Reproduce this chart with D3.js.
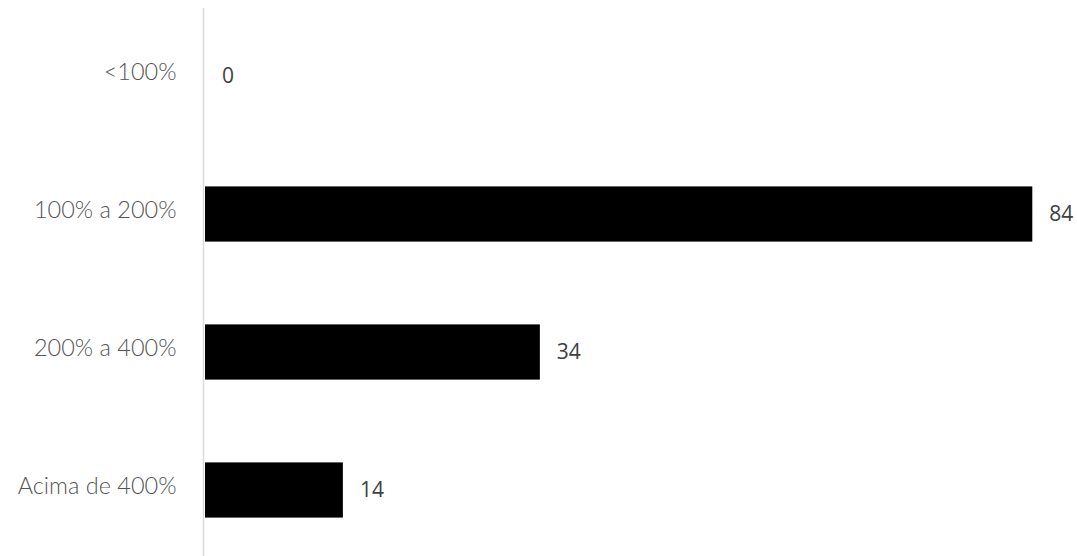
<!DOCTYPE html>
<html><head><meta charset="utf-8">
<script src="https://cdn.jsdelivr.net/npm/d3@7"></script>
<style>html,body{margin:0;padding:0;background:#fff;}</style>
</head><body>
<svg id="c" width="1077" height="556"></svg>
<script>
const categories = ["<100%", "100% a 200%", "200% a 400%", "Acima de 400%"];
const values = [0, 84, 34, 14];

const svg = d3.select("#c");
const x = d3.scaleLinear().domain([0, 84]).range([205, 1032.3]);
const y = d3.scaleBand().domain(categories).range([7, 559]).paddingInner(0.6).paddingOuter(0.3);

svg.selectAll("rect.bar").data(categories).enter().append("rect")
  .attr("class", "bar")
  .attr("x", x(0))
  .attr("y", d => y(d))
  .attr("width", (d, i) => x(values[i]) - x(0))
  .attr("height", y.bandwidth())
  .attr("fill", "#000");

const axis = d3.axisLeft(y).tickSize(0).tickPadding(27);
const g = svg.append("g").attr("transform", "translate(203.5,0)").call(axis);
g.select(".domain").remove();
g.append("line").attr("x1", 0).attr("x2", 0).attr("y1", 8).attr("y2", 556).attr("stroke", "#d9d9d9").attr("stroke-width", 1.5);
g.selectAll(".tick text")
  .attr("font-family", "Lato")
  .attr("font-weight", 300)
  .attr("font-size", 23.5)
  .attr("dy", "0.15em")
  .attr("fill", "#555555");

svg.selectAll("text.val").data(categories).enter().append("text")
  .attr("class", "val")
  .attr("x", (d, i) => x(values[i]) + 17)
  .attr("y", d => y(d) + y.bandwidth() / 2)
  .attr("dy", "0.35em")
  .attr("font-family", "Open Sans")
  .attr("font-size", 21)
  .attr("fill", "#404040")
  .text((d, i) => values[i]);
</script>
</body></html>
